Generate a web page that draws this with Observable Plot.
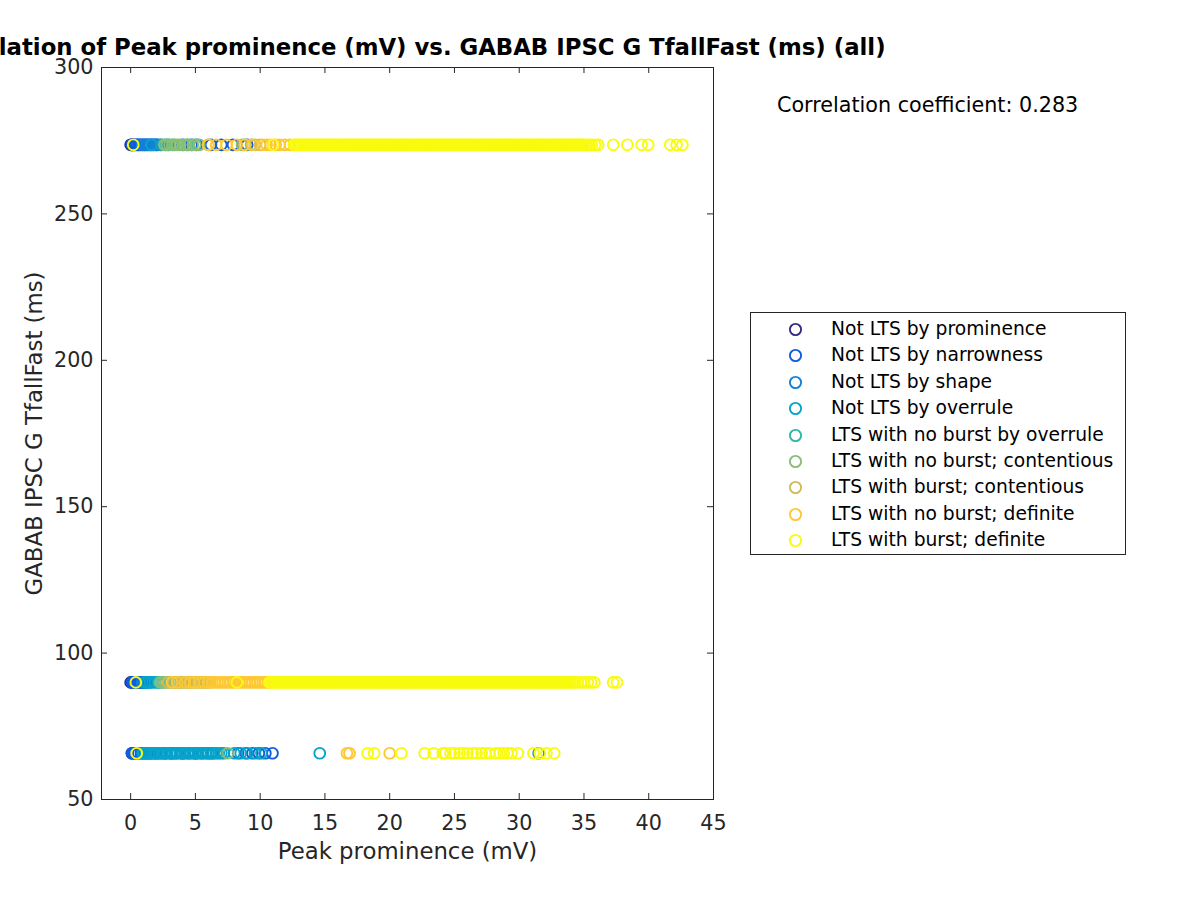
<!DOCTYPE html>
<html>
<head>
<meta charset="utf-8">
<script src="https://cdn.jsdelivr.net/npm/d3@7"></script>
<script src="https://cdn.jsdelivr.net/npm/@observablehq/plot@0.6"></script>
<style>
  html, body { margin: 0; padding: 0; background: #fff; overflow: hidden; }
  #page { position: relative; width: 1200px; height: 900px; font-family: "DejaVu Sans", sans-serif; color: #262626; }
  #chart { position: absolute; left: 0; top: 0; }
  #title { position: absolute; top: 34px; left: 407px; transform: translateX(-50%); white-space: nowrap; font-weight: bold; font-size: 22.8px; color: #000; line-height: normal; }
  #corr { position: absolute; left: 777px; top: 93px; white-space: nowrap; font-size: 20.7px; color: #000; line-height: normal; }
  #legend { position: absolute; left: 750px; top: 312px; width: 376px; height: 243px; border: 1px solid #262626; background: #fff; box-sizing: border-box; }
  .item { position: absolute; left: 0; height: 26.4px; line-height: 26.4px; font-size: 18.7px; white-space: nowrap; color: #000; }
  .item svg { position: absolute; left: 37px; top: 6px; }
  .item span { position: absolute; left: 80px; top: 0; }
</style>
</head>
<body>
<div id="page">
  <div id="chart"></div>
  <div id="title"></div>
  <div id="corr"></div>
  <div id="legend"></div>
</div>
<script>
const titleText = "Correlation of Peak prominence (mV) vs. GABAB IPSC G TfallFast (ms) (all)";
const xLabel = "Peak prominence (mV)";
const yLabel = "GABAB IPSC G TfallFast (ms)";
const corrText = "Correlation coefficient: 0.283";

const categories = [
  "Not LTS by prominence",
  "Not LTS by narrowness",
  "Not LTS by shape",
  "Not LTS by overrule",
  "LTS with no burst by overrule",
  "LTS with no burst; contentious",
  "LTS with burst; contentious",
  "LTS with no burst; definite",
  "LTS with burst; definite"
];
const colors = ["#352a87", "#0f5cdd", "#1481d6", "#06a4ca", "#2eb7a4", "#87bf77", "#d1bb59", "#fec832", "#f9fb0e"];

// the three distinct y levels (ms)
const yLevels = [273.6, 90.0, 65.8];

const xTicks = [0, 5, 10, 15, 20, 25, 30, 35, 40, 45];
const yTicks = [50, 100, 150, 200, 250, 300];

// x values (mV) per category, for each y level: [top, middle, bottom]
const notLtsProminence = [
  [0.0, 0.1],
  [0.0, 0.1],
  [0.1]
];
const notLtsNarrowness = [
  [0.1, 0.15, 0.2, 0.3, 0.4, 0.5, 0.6, 0.7, 0.8, 0.95, 1.1, 1.3, 1.5, 1.75, 2.0, 2.9, 4.0, 4.7, 5.1, 6.2, 7.0, 7.9, 9.0],
  [0.1, 0.15, 0.2, 0.3, 0.4, 0.5, 0.6, 0.7, 0.8, 0.9, 1.0, 1.2],
  [0.1, 0.2, 0.3, 0.45, 0.6, 0.8, 1.0, 1.3, 1.6, 2.0, 2.6, 3.2, 4.0, 5.0, 6.3, 8.3, 8.9, 9.4, 9.9, 10.4, 10.95]
];
const notLtsShape = [
  [0.9, 1.05, 1.2, 1.35, 1.5, 1.65, 1.8, 1.95, 2.1, 2.3],
  [0.9, 1.1, 1.3, 1.5],
  [0.9, 1.2, 1.5, 1.9, 2.3, 2.7, 3.1, 3.5, 4.0, 4.5, 5.0, 5.5, 6.0]
];
const notLtsOverrule = [
  [1.6, 2.4],
  [1.1, 1.3, 1.5, 1.7, 1.9, 2.1, 2.3],
  [1.0, 1.2, 1.4, 1.6, 1.8, 2.0, 2.2, 2.4, 2.6, 2.8, 3.0, 3.2, 3.4, 3.6, 3.8, 4.0, 4.2, 4.4, 4.6, 4.8, 5.0, 5.2, 5.4, 5.6, 5.8, 6.0, 6.2, 6.4, 6.6, 6.8, 7.0, 7.2, 8.0, 8.5, 9.0, 9.6, 10.1, 14.6, 31.5]
];
const ltsNoBurstOverrule = [
  [2.7, 3.3, 4.4],
  [2.2, 2.5],
  []
];
const ltsNoBurstContentious = [
  [2.6, 2.8, 3.0, 3.2, 3.4, 3.6, 3.8, 4.1, 4.3, 4.5, 4.8, 5.0, 5.3, 8.6, 9.3],
  [2.3, 2.5, 2.7, 2.9, 3.1, 3.4, 3.7, 4.0, 4.3, 4.6, 5.0, 5.4, 5.8],
  [7.5]
];
const ltsBurstContentious = [
  [6.0, 8.8, 9.6, 10.0],
  [2.9, 3.3, 3.6, 3.9, 4.4, 4.7, 5.2, 5.6, 6.1],
  []
];
const ltsNoBurstDefinite = [
  [6.0, 6.6, 7.4, 8.2, 8.8, 9.4, 10.2, 10.5, 10.8, 11.2, 11.5, 11.9, 12.3],
  [3.2, 3.6, 4.2, 4.6, 4.9, 5.3, 5.7, 6.0, 6.3, 6.5, 6.7, 6.9, 7.1, 7.3, 7.5, 7.7, 7.9, 8.1, 8.4, 8.6, 8.8, 9.0, 9.2, 9.4, 9.6, 9.8, 10.0, 10.2, 10.4, 10.6],
  [16.7, 16.9, 20.0]
];
const ltsBurstDefinite = [
  [0.2, 11.0, 12.6, 12.75, 12.9, 13.0, 13.15, 13.3, 13.45, 13.6, 13.7, 13.85, 14.0, 14.15, 14.3, 14.4, 14.55, 14.7, 14.85, 15.0, 15.1, 15.25, 15.4, 15.55, 15.7, 15.8, 15.95, 16.1, 16.25, 16.4, 16.5, 16.65, 16.8, 16.95, 17.1, 17.2, 17.35, 17.5, 17.65, 17.8, 17.9, 18.05, 18.2, 18.35, 18.5, 18.6, 18.75, 18.9, 19.05, 19.2, 19.3, 19.45, 19.6, 19.75, 19.9, 20.0, 20.15, 20.3, 20.45, 20.6, 20.7, 20.85, 21.0, 21.15, 21.3, 21.4, 21.55, 21.7, 21.85, 22.0, 22.1, 22.25, 22.4, 22.55, 22.7, 22.8, 22.95, 23.1, 23.25, 23.4, 23.5, 23.65, 23.8, 23.95, 24.1, 24.2, 24.35, 24.5, 24.65, 24.8, 24.9, 25.05, 25.2, 25.35, 25.5, 25.6, 25.75, 25.9, 26.05, 26.2, 26.3, 26.45, 26.6, 26.75, 26.9, 27.0, 27.15, 27.3, 27.45, 27.6, 27.7, 27.85, 28.0, 28.15, 28.3, 28.4, 28.55, 28.7, 28.85, 29.0, 29.1, 29.25, 29.4, 29.55, 29.7, 29.8, 29.95, 30.1, 30.25, 30.4, 30.5, 30.65, 30.8, 30.95, 31.1, 31.2, 31.35, 31.5, 31.65, 31.8, 31.9, 32.05, 32.2, 32.35, 32.5, 32.6, 32.75, 32.9, 33.05, 33.2, 33.3, 33.45, 33.6, 33.75, 33.9, 34.0, 34.15, 34.3, 34.45, 34.6, 34.7, 34.85, 35.0, 35.2, 35.4, 35.6, 35.85, 36.1, 37.26, 38.35, 39.45, 39.96, 41.66, 42.15, 42.6],
  [0.4, 8.2, 10.7, 10.85, 11.0, 11.15, 11.3, 11.4, 11.55, 11.7, 11.85, 12.0, 12.1, 12.25, 12.4, 12.55, 12.7, 12.8, 12.95, 13.1, 13.25, 13.4, 13.5, 13.65, 13.8, 13.95, 14.1, 14.2, 14.35, 14.5, 14.65, 14.8, 14.9, 15.05, 15.2, 15.35, 15.5, 15.6, 15.75, 15.9, 16.05, 16.2, 16.3, 16.45, 16.6, 16.75, 16.9, 17.0, 17.15, 17.3, 17.45, 17.6, 17.7, 17.85, 18.0, 18.15, 18.3, 18.4, 18.55, 18.7, 18.85, 19.0, 19.1, 19.25, 19.4, 19.55, 19.7, 19.8, 19.95, 20.1, 20.25, 20.4, 20.5, 20.65, 20.8, 20.95, 21.1, 21.2, 21.35, 21.5, 21.65, 21.8, 21.9, 22.05, 22.2, 22.35, 22.5, 22.6, 22.75, 22.9, 23.05, 23.2, 23.3, 23.45, 23.6, 23.75, 23.9, 24.0, 24.15, 24.3, 24.45, 24.6, 24.7, 24.85, 25.0, 25.15, 25.3, 25.4, 25.55, 25.7, 25.85, 26.0, 26.1, 26.25, 26.4, 26.55, 26.7, 26.8, 26.95, 27.1, 27.25, 27.4, 27.5, 27.65, 27.8, 27.95, 28.1, 28.2, 28.35, 28.5, 28.65, 28.8, 28.9, 29.05, 29.2, 29.35, 29.5, 29.6, 29.75, 29.9, 30.05, 30.2, 30.3, 30.45, 30.6, 30.75, 30.9, 31.0, 31.15, 31.3, 31.45, 31.6, 31.7, 31.85, 32.0, 32.15, 32.3, 32.4, 32.55, 32.7, 32.85, 33.0, 33.1, 33.25, 33.4, 33.55, 33.7, 33.8, 33.95, 34.1, 34.3, 34.5, 34.75, 35.0, 35.3, 35.55, 35.8, 37.25, 37.55],
  [0.47, 18.3, 18.8, 20.9, 22.7, 23.4, 24.1, 24.3, 24.7, 25.0, 25.4, 25.7, 26.0, 26.4, 26.7, 27.1, 27.4, 27.7, 28.2, 28.5, 28.8, 29.1, 29.4, 29.9, 31.1, 31.6, 32.1, 32.7]
];

const groups = [notLtsProminence, notLtsNarrowness, notLtsShape, notLtsOverrule, ltsNoBurstOverrule,
  ltsNoBurstContentious, ltsBurstContentious, ltsNoBurstDefinite, ltsBurstDefinite];

const W = 1200, H = 900;
const mL = 101, mR = 487, mT = 67, mB = 101;
const innerW = W - mL - mR, innerH = H - mT - mB;
const axisColor = "#262626";

const dotMarks = groups.map((g, i) => {
  const rows = [];
  g.forEach((xs, level) => xs.forEach(x => rows.push({x, y: yLevels[level]})));
  return Plot.dot(rows, {x: "x", y: "y", r: 5.4, stroke: colors[i], strokeWidth: 1.9, fill: "none"});
});

const chart = Plot.plot({
  width: W, height: H,
  marginLeft: mL, marginRight: mR, marginTop: mT, marginBottom: mB,
  x: {domain: [-2.25, 45]},
  y: {domain: [50, 300]},
  style: {fontFamily: "'DejaVu Sans', sans-serif", fontSize: "20.7px", color: axisColor, background: "white"},
  marks: [
    ...dotMarks,
    Plot.frame({stroke: axisColor, strokeWidth: 1}),
    Plot.tickX(xTicks, {x: d => d, insetTop: innerH - 6, stroke: axisColor}),
    Plot.tickX(xTicks, {x: d => d, insetBottom: innerH - 6, stroke: axisColor}),
    Plot.tickY(yTicks, {y: d => d, insetRight: innerW - 6, stroke: axisColor}),
    Plot.tickY(yTicks, {y: d => d, insetLeft: innerW - 6, stroke: axisColor}),
    Plot.axisX(xTicks, {tickSize: 0, tickPadding: 16, label: null, fontSize: 20.7}),
    Plot.axisY(yTicks, {tickSize: 0, tickPadding: 8, label: null, fontSize: 20.7}),
    Plot.text([xLabel], {text: d => d, frameAnchor: "bottom", dy: 52, lineAnchor: "middle", textAnchor: "middle", fontSize: 22.8, fill: axisColor}),
    Plot.text([yLabel], {text: d => d, frameAnchor: "left", dx: -67, rotate: -90, lineAnchor: "middle", textAnchor: "middle", fontSize: 22.8, fill: axisColor})
  ]
});
document.getElementById("chart").appendChild(chart);

document.getElementById("title").textContent = titleText;
document.getElementById("corr").textContent = corrText;

const legend = document.getElementById("legend");
categories.forEach((name, i) => {
  const item = document.createElement("div");
  item.className = "item";
  item.style.top = (3 + i * 26.4) + "px";
  item.innerHTML = `<svg width="15" height="15" viewBox="0 0 15 15"><circle cx="7.5" cy="7.5" r="5.6" fill="none" stroke="${colors[i]}" stroke-width="1.9"/></svg><span></span>`;
  item.querySelector("span").textContent = name;
  legend.appendChild(item);
});
</script>
</body>
</html>
